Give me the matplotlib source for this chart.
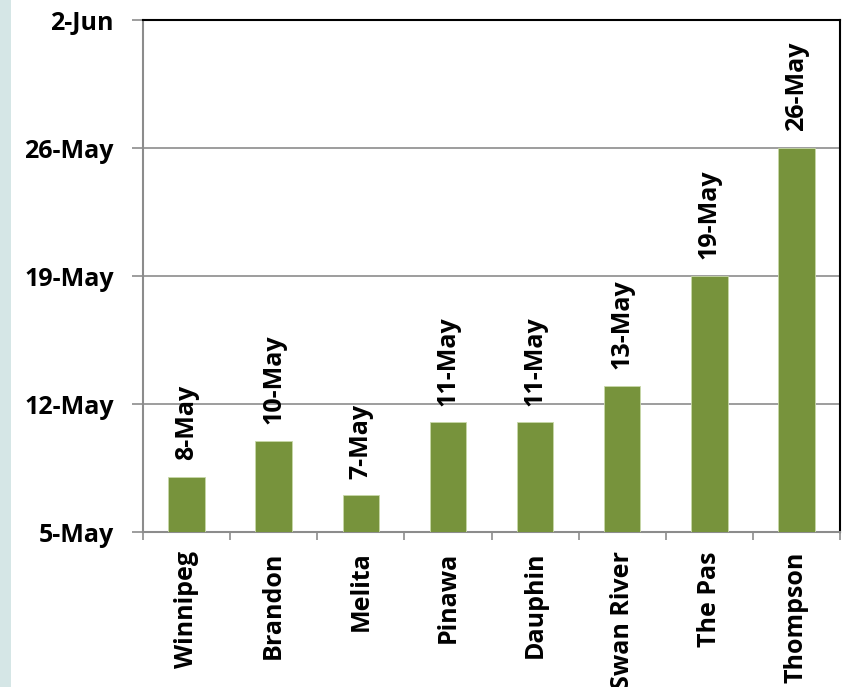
import datetime as dt
import numpy as np
import matplotlib.pyplot as plt
import matplotlib.dates as mdates
from matplotlib.patches import Rectangle

# Data
stations = ['Winnipeg', 'Brandon', 'Melita', 'Pinawa', 'Dauphin',
            'Swan River', 'The Pas', 'Thompson']
dates = ['2013-05-08', '2013-05-10', '2013-05-07', '2013-05-11',
         '2013-05-11', '2013-05-13', '2013-05-19', '2013-05-26']
labels = ['8-May', '10-May', '7-May', '11-May', '11-May', '13-May',
          '19-May', '26-May']
ytick_dates = ['2013-05-05', '2013-05-12', '2013-05-19', '2013-05-26', '2013-06-02']
ytick_labels = ['5-May', '12-May', '19-May', '26-May', '2-Jun']

plt.rcParams['font.family'] = ['Open Sans', 'DejaVu Sans']
plt.rcParams['font.weight'] = 'bold'

vals = mdates.date2num([dt.datetime.fromisoformat(d) for d in dates])
yt = mdates.date2num([dt.datetime.fromisoformat(d) for d in ytick_dates])
base = yt[0]

fig = plt.figure(figsize=(8.44, 6.87), dpi=100)
fig.patch.set_facecolor('white')
fig.patches.append(Rectangle((0, 0), 11 / 844, 1, transform=fig.transFigure,
                             facecolor='#d5e6e6', edgecolor='none', zorder=0))

ax = fig.add_axes([143 / 844, 155 / 687, 697 / 844, 512 / 687])

x = np.arange(len(stations))
ax.bar(x, vals - base, bottom=base, width=0.42, color='#77933c',
       edgecolor='#c8d8a8', linewidth=0.6, zorder=3)

for xi, v, lab in zip(x, vals, labels):
    ax.annotate(lab, (xi, v), xytext=(0, 12), textcoords='offset points',
                rotation=90, ha='center', va='bottom', fontsize=18,
                fontweight='bold', zorder=4)

ax.set_xlim(-0.5, len(stations) - 0.5)
ax.set_ylim(yt[0], yt[-1])

ax.set_yticks(yt)
ax.set_yticklabels(ytick_labels, fontsize=18, fontweight='bold')
ax.yaxis.grid(True, color='#8c8c8c', linewidth=1.2, zorder=0)
ax.set_axisbelow(True)

ax.set_xticks(x)
ax.set_xticklabels(stations, rotation=90, fontsize=18, fontweight='bold', va='top')
ax.set_xticks(np.arange(len(stations) + 1) - 0.5, minor=True)
ax.tick_params(axis='x', which='major', length=0, pad=14)
ax.tick_params(axis='x', which='minor', length=6, width=1.2, color='#8c8c8c')
ax.tick_params(axis='y', length=8, width=1.2, color='#8c8c8c', pad=13)

ax.spines['left'].set_color('#8c8c8c')
ax.spines['bottom'].set_color('#8c8c8c')
ax.spines['left'].set_linewidth(1.5)
ax.spines['bottom'].set_linewidth(1.5)
ax.spines['top'].set_color('black')
ax.spines['right'].set_color('black')
ax.spines['top'].set_linewidth(1.5)
ax.spines['right'].set_linewidth(1.5)

fig.savefig('out.png', dpi=100)
